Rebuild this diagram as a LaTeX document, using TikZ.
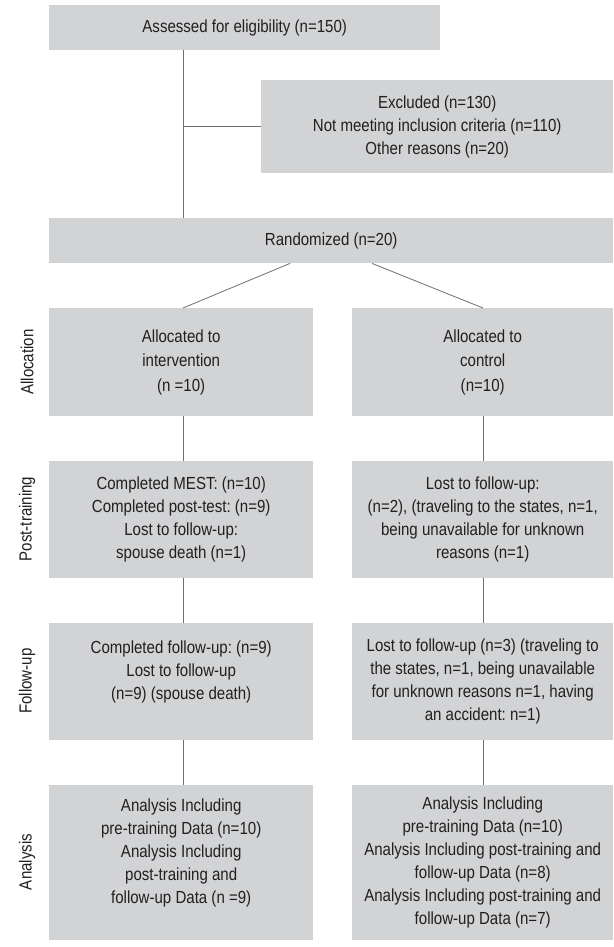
\documentclass[tikz,border=0pt]{standalone}
\usepackage{fontspec}
\setmainfont{Liberation Sans}[FakeStretch=0.86]
\frenchspacing
\definecolor{boxgray}{HTML}{D1D3D4}
\definecolor{txtgray}{HTML}{231F20}
\definecolor{lngray}{HTML}{6D6E71}
\begin{document}
\frenchspacing
\begin{tikzpicture}[x=1pt,y=-1pt,
  box/.style={fill=boxgray, draw=none, align=center, text=txtgray, inner sep=0pt,
    font=\fontsize{17.5}{23}\selectfont\frenchspacing, anchor=north west},
  conn/.style={draw=lngray, line width=0.8pt},
  side/.style={rotate=90, text=txtgray, font=\fontsize{17.5}{20}\selectfont}]
\useasboundingbox (0,0) rectangle (613,947);
\fill[white] (0,0) rectangle (613,947);
% boxes
\node[box, minimum width=391, minimum height=45] (assess) at (49,5) {Assessed for eligibility (n=150)};
\node[box, minimum width=352, minimum height=93] (excl) at (261,80) {Excluded (n=130)\\Not meeting inclusion criteria (n=110)\\Other reasons (n=20)};
\node[box, minimum width=564, minimum height=45] (rand) at (49,218) {Randomized (n=20)};
\node[box, minimum width=264, minimum height=108, font=\fontsize{17.5}{24.5}\selectfont\frenchspacing] (alI) at (49,308) {Allocated to\\intervention\\(n =10)};
\node[box, minimum width=261, minimum height=108, font=\fontsize{17.5}{24.5}\selectfont\frenchspacing] (alC) at (352,308) {Allocated to\\control\\(n=10)};
\node[box, minimum width=264, minimum height=117] (ptI) at (49,461) {Completed MEST: (n=10)\\Completed post-test: (n=9)\\Lost to follow-up:\\spouse death (n=1)};
\node[box, minimum width=261, minimum height=117] (ptC) at (352,461) {Lost to follow-up:\\(n=2), (traveling to the states, n=1,\\being unavailable for unknown\\reasons (n=1)};
\node[box, minimum width=264, minimum height=117] (fuI) at (49,623) {Completed follow-up: (n=9)\\Lost to follow-up\\(n=9) (spouse death)\\\mbox{}};
\node[box, minimum width=261, minimum height=117] (fuC) at (352,623) {Lost to follow-up (n=3) (traveling to\\the states, n=1, being unavailable\\for unknown reasons n=1, having\\an accident: n=1)};
\node[box, minimum width=264, minimum height=155] (anI) at (49,785) {Analysis Including\\pre-training Data (n=10)\\Analysis Including\\post-training and\\follow-up Data (n =9)\\\mbox{}};
\node[box, minimum width=261, minimum height=155] (anC) at (352,785) {Analysis Including\\pre-training Data (n=10)\\Analysis Including post-training and\\follow-up Data (n=8)\\Analysis Including post-training and\\follow-up Data (n=7)};
% side labels
\node[side] (sAl) at (27,362) {Allocation};
\node[side] (sPt) at (27,519) {Post-training};
\node[side] (sFu) at (27,681) {Follow-up};
\node[side] (sAn) at (27,862) {Analysis};
% connector x positions
\coordinate (cl) at (183,0);
\coordinate (cr) at (483,0);
\coordinate (dl) at (290,0);
\coordinate (dr) at (372,0);
\draw[conn] (assess.south -| cl) -- (rand.north -| cl);
\draw[conn] (excl.west) -- (excl.west -| cl);
\draw[conn] (rand.south -| dl) -- (alI.north -| cl);
\draw[conn] (rand.south -| dr) -- (alC.north -| cr);
\draw[conn] (alI.south -| cl) -- (ptI.north -| cl);
\draw[conn] (alC.south -| cr) -- (ptC.north -| cr);
\draw[conn] (ptI.south -| cl) -- (fuI.north -| cl);
\draw[conn] (ptC.south -| cr) -- (fuC.north -| cr);
\draw[conn] (fuI.south -| cl) -- (anI.north -| cl);
\draw[conn] (fuC.south -| cr) -- (anC.north -| cr);
\end{tikzpicture}
\end{document}
